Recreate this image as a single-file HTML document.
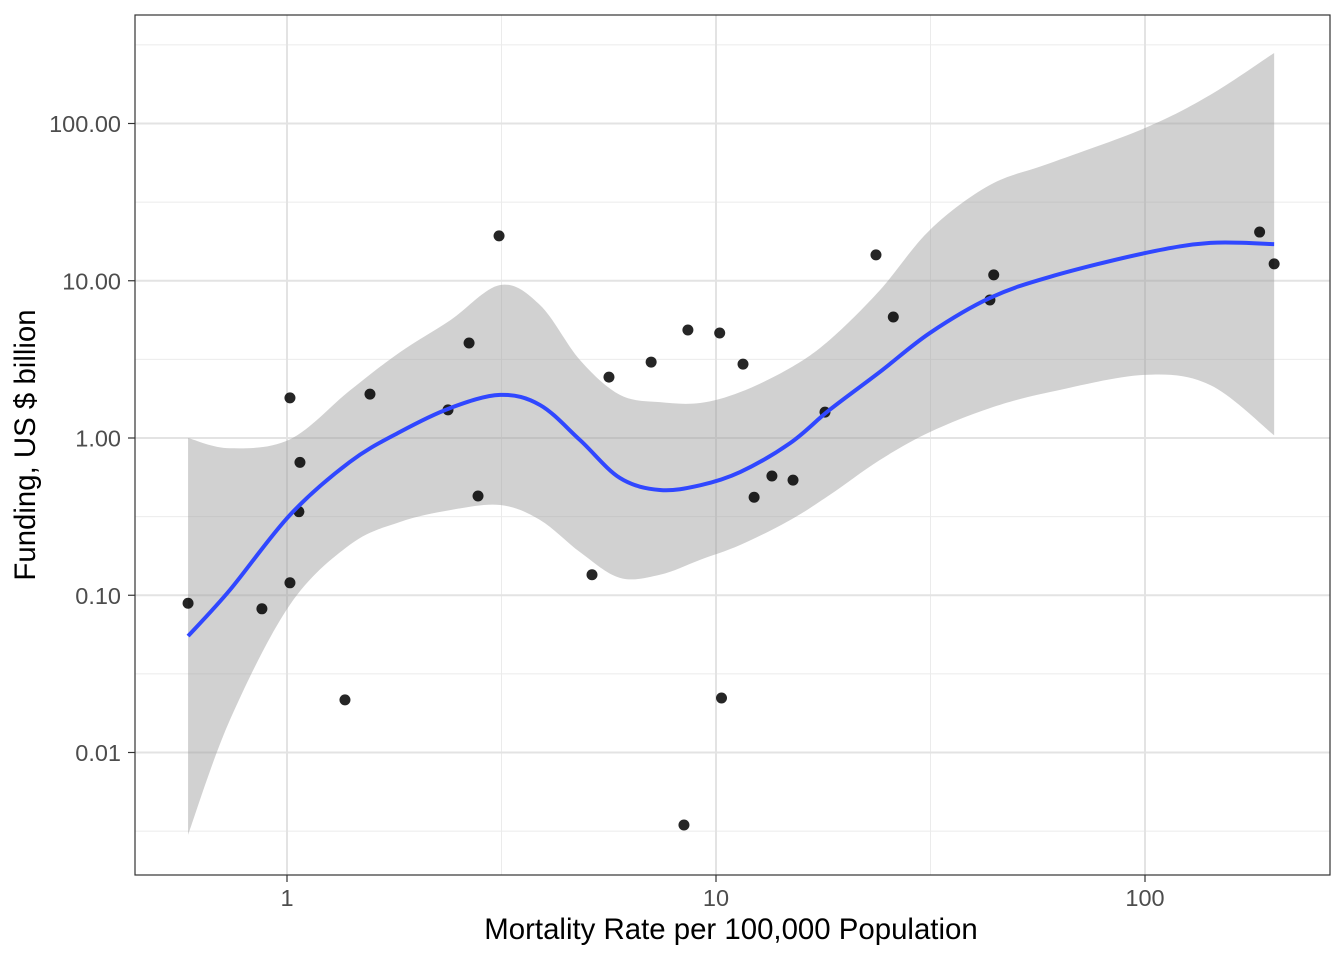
<!DOCTYPE html>
<html><head><meta charset="utf-8"><style>
body{margin:0;background:#fff;}
svg{display:block;font-family:"Liberation Sans",Arial,sans-serif;}
</style></head><body>
<svg id="chart" width="1344" height="960">
<rect width="1344" height="960" fill="#fff"/>
<g id="grid"></g>
<path id="band" fill="#999" fill-opacity="0.45"/>
<g id="pts"></g>
<path id="fit" fill="none" stroke="#3047ff" stroke-width="4"/>
<rect x="135" y="15" width="1195" height="860" fill="none" stroke="#333" stroke-width="1.2"/>
<g id="axes"></g>
<text x="731" y="939" text-anchor="middle" font-size="29.4" fill="#000">Mortality Rate per 100,000 Population</text>
<text transform="translate(35,445) rotate(-90)" text-anchor="middle" font-size="29.4" fill="#000">Funding, US $ billion</text>
</svg>
<script>
const ptX=[0.588,0.874,1.016,1.016,1.072,1.066,1.365,1.561,2.373,2.657,2.788,3.121,5.14,5.63,7.06,8.42,8.60,10.2,10.3,11.56,12.27,13.5,15.12,17.95,23.6,25.9,43.5,44.4,185,200];
const ptY=[0.089,0.082,1.80,0.12,0.70,0.34,0.0216,1.90,1.51,4.02,0.428,19.3,0.135,2.44,3.04,0.00346,4.86,4.65,0.0222,2.95,0.42,0.573,0.54,1.46,14.6,5.88,7.55,10.9,20.4,12.8];
const smX=[0.588,0.736,1.016,1.40,1.83,2.40,3.14,3.89,4.82,5.97,7.40,9.18,11.4,14.9,18.4,24.1,31.5,43.5,60.1,100,142,200];
const smFit=[0.055,0.108,0.324,0.703,1.09,1.55,1.88,1.62,0.97,0.557,0.467,0.50,0.608,0.93,1.51,2.63,4.65,7.77,10.6,15.0,17.4,17.1];
const smHi=[1.0,0.86,0.98,2.0,3.5,5.6,9.4,7.0,3.13,1.88,1.69,1.67,1.96,2.79,4.2,8.7,21,40.6,56,93.6,152,281];
const smLo=[0.003,0.0161,0.087,0.209,0.292,0.348,0.375,0.301,0.188,0.129,0.135,0.168,0.209,0.301,0.434,0.725,1.09,1.55,1.96,2.52,2.17,1.04];
const xTicks=[1,10,100], xTickLabels=["1","10","100"];
const yTicks=[0.01,0.1,1,10,100], yTickLabels=["0.01","0.10","1.00","10.00","100.00"];
const xMinor=[3.162,31.62], yMinor=[0.003162,0.03162,0.3162,3.162,31.62,316.2];
const X=v=>287+429*Math.log10(v);
const Y=v=>438-157.25*Math.log10(v);
const NS="http://www.w3.org/2000/svg";
function mk(tag,attrs,parent){const e=document.createElementNS(NS,tag);for(const k in attrs)e.setAttribute(k,attrs[k]);parent.appendChild(e);return e;}
const grid=document.getElementById('grid'),axes=document.getElementById('axes');
xMinor.forEach(v=>{const l=mk('line',{x1:X(v),x2:X(v),y1:15,y2:875,stroke:'#ebebeb','stroke-width':1},grid);

});
yMinor.forEach(v=>{if(Y(v)<15)return;const l=mk('line',{x1:135,x2:1330,y1:Y(v),y2:Y(v),stroke:'#ebebeb','stroke-width':1},grid);

});
xTicks.forEach((v,i)=>{const l=mk('line',{x1:X(v),x2:X(v),y1:15,y2:875,stroke:'#e3e3e3','stroke-width':2},grid);


const t=mk('line',{x1:X(v),x2:X(v),y1:875,y2:882,stroke:'#333','stroke-width':1.2},axes);


const tx=mk('text',{x:X(v),y:906,'text-anchor':'middle','font-size':23.5,fill:'#4d4d4d'},axes);tx.textContent=xTickLabels[i];

});
yTicks.forEach((v,i)=>{const l=mk('line',{x1:135,x2:1330,y1:Y(v),y2:Y(v),stroke:'#e3e3e3','stroke-width':2},grid);


const t=mk('line',{x1:128,x2:135,y1:Y(v),y2:Y(v),stroke:'#333','stroke-width':1.2},axes);


const tx=mk('text',{x:121,y:Y(v)+8.5,'text-anchor':'end','font-size':23.5,fill:'#4d4d4d'},axes);tx.textContent=yTickLabels[i];

});
function curve(xs,ys){let d='';const p=xs.map((x,i)=>[X(x),Y(ys[i])]);
d='M'+p[0][0]+','+p[0][1];
for(let i=0;i<p.length-1;i++){const p0=p[i-1]||p[i],p1=p[i],p2=p[i+1],p3=p[i+2]||p2;
d+=' C'+(p1[0]+(p2[0]-p0[0])/6)+','+(p1[1]+(p2[1]-p0[1])/6)+' '+(p2[0]-(p3[0]-p1[0])/6)+','+(p2[1]-(p3[1]-p1[1])/6)+' '+p2[0]+','+p2[1];}
return d;}
const up=curve(smX,smHi);
const lo=curve(smX.slice().reverse(),smLo.slice().reverse());
document.getElementById('band').setAttribute('d',up+' L'+lo.slice(1)+' Z');
document.getElementById('fit').setAttribute('d',curve(smX,smFit));
const pts=document.getElementById('pts');
ptX.forEach((x,i)=>{const c=mk('circle',{cx:X(x),cy:Y(ptY[i]),r:5.5,fill:'#000','fill-opacity':0.85},pts);

});
</script>
</body></html>
